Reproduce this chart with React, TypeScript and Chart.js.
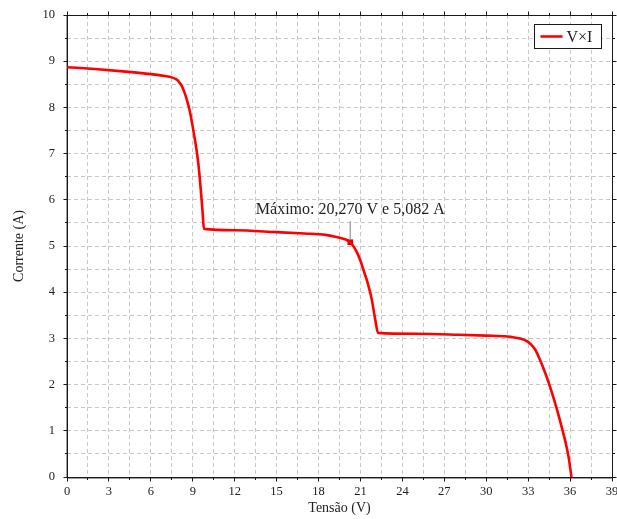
import { useEffect, useRef } from 'react';
import { Chart, registerables } from 'chart.js';

Chart.register(...registerables);

// Curva I-V do painel (tensão em V, corrente em A)
const tensao = [
  0, 2, 4, 6, 7, 7.5, 7.8, 8.0, 8.2, 8.4, 8.6, 8.8, 8.95, 9.1, 9.25, 9.4, 9.55, 9.7, 9.8,
  12, 15, 17, 18.5, 19.2, 19.7, 20.0, 20.27, 20.55, 20.8, 21.0, 21.25, 21.5, 21.8, 22.05, 22.26,
  25, 28, 30, 31.5, 32.0, 32.5, 32.9, 33.2, 33.5, 33.8, 34.1, 34.45, 34.8, 35.1, 35.4, 35.7, 35.9, 36.1,
];
const corrente = [
  8.87, 8.83, 8.78, 8.72, 8.68, 8.65, 8.61, 8.56, 8.47, 8.33, 8.14, 7.9, 7.66, 7.4, 7.12, 6.78, 6.3, 5.75, 5.37,
  5.34, 5.3, 5.27, 5.24, 5.2, 5.16, 5.13, 5.082, 4.97, 4.83, 4.68, 4.45, 4.22, 3.86, 3.42, 3.12,
  3.1, 3.08, 3.06, 3.04, 3.02, 2.99, 2.94, 2.87, 2.76, 2.57, 2.35, 2.06, 1.73, 1.42, 1.08, 0.72, 0.42, 0,
];

// Ponto de máxima potência
const maxTensao = 20.27;
const maxCorrente = 5.082;

// Eixos
const xMin = 0;
const xMax = 39;
const xMajor = 3;
const xMinor = 1.5;
const yMin = 0;
const yMax = 10;
const yMajor = 1;
const yMinor = 0.5;

const serieLabel = 'V×I';
const xTitle = 'Tensão (V)';
const yTitle = 'Corrente (A)';

const SERIF = '"Liberation Serif", "Times New Roman", serif';
const RED = '#ff0000';
const TEXT = '#222222';

const fmt = (v: number) => v.toFixed(3).replace('.', ',');
const maxLabel = `Máximo: ${fmt(maxTensao)} V e ${fmt(maxCorrente)} A`;

const isMultiple = (v: number, step: number) => Math.abs(v / step - Math.round(v / step)) < 1e-6;
const align = (p: number) => Math.round(p - 0.5) + 0.5;

// Moldura com marcas de escala para fora, nos quatro lados
const framePlugin = {
  id: 'frame',
  beforeDatasetsDraw(chart: any) {
    const { ctx, chartArea, scales } = chart;
    const x = scales.x;
    const y = scales.y;
    const l = align(chartArea.left);
    const r = align(chartArea.right);
    const t = align(chartArea.top);
    const b = align(chartArea.bottom);
    ctx.save();
    ctx.strokeStyle = '#1a1a1a';
    ctx.lineWidth = 1;
    ctx.setLineDash([]);
    ctx.strokeRect(l, t, r - l, b - t);
    // eixos esquerdo e inferior um pouco mais marcados
    ctx.strokeStyle = 'rgba(40,40,40,0.45)';
    ctx.beginPath();
    ctx.moveTo(l - 1, t);
    ctx.lineTo(l - 1, b);
    ctx.moveTo(l, b + 1);
    ctx.lineTo(r, b + 1);
    ctx.stroke();
    ctx.strokeStyle = '#1a1a1a';
    ctx.beginPath();
    for (const tk of x.ticks) {
      const px = align(x.getPixelForValue(tk.value));
      const len = isMultiple(tk.value, xMajor) ? 4 : 2.5;
      ctx.moveTo(px, b);
      ctx.lineTo(px, b + len);
      ctx.moveTo(px, t);
      ctx.lineTo(px, t - len);
    }
    for (const tk of y.ticks) {
      const py = align(y.getPixelForValue(tk.value));
      const len = isMultiple(tk.value, yMajor) ? 4 : 2.5;
      ctx.moveTo(l, py);
      ctx.lineTo(l - len, py);
      ctx.moveTo(r, py);
      ctx.lineTo(r + len, py);
    }
    ctx.stroke();
    ctx.restore();
  },
};

// Anotação do ponto máximo e legenda em caixa
const overlayPlugin = {
  id: 'overlay',
  afterDatasetsDraw(chart: any) {
    const { ctx, chartArea, scales } = chart;
    const px = scales.x.getPixelForValue(maxTensao);
    const py = scales.y.getPixelForValue(maxCorrente);
    ctx.save();
    ctx.strokeStyle = '#a8a8a8';
    ctx.lineWidth = 1.5;
    ctx.beginPath();
    ctx.moveTo(px, py - 3);
    ctx.lineTo(px, py - 21);
    ctx.stroke();
    ctx.fillStyle = TEXT;
    ctx.font = `16px ${SERIF}`;
    ctx.textAlign = 'center';
    ctx.textBaseline = 'alphabetic';
    ctx.fillText(maxLabel, px, py - 28);

    // legenda
    const bw = 67;
    const bh = 24;
    const bx = Math.round(chartArea.right - 11 - bw) + 0.5;
    const by = Math.round(chartArea.top + 9) + 0.5;
    ctx.fillStyle = '#ffffff';
    ctx.fillRect(bx, by, bw, bh);
    ctx.strokeStyle = '#1a1a1a';
    ctx.lineWidth = 1;
    ctx.strokeRect(bx, by, bw, bh);
    const ds = chart.data.datasets[0];
    ctx.strokeStyle = ds.borderColor;
    ctx.lineWidth = 2.6;
    ctx.beginPath();
    ctx.moveTo(bx + 6, by + bh / 2);
    ctx.lineTo(bx + 28, by + bh / 2);
    ctx.stroke();
    ctx.fillStyle = TEXT;
    ctx.font = `16px ${SERIF}`;
    ctx.textAlign = 'left';
    ctx.textBaseline = 'middle';
    ctx.fillText(ds.label, bx + 32, by + bh / 2 + 1);
    ctx.restore();
  },
};

export default function App() {
  const canvasRef = useRef<HTMLCanvasElement | null>(null);

  useEffect(() => {
    const canvas = canvasRef.current;
    if (!canvas) return;
    const tickFont = { family: SERIF, size: 12.5 };
    const titleFont = { family: SERIF, size: 14 };
    const grid = { color: '#c8c8c8', lineWidth: 1, drawTicks: false };
    const border = { display: false, dash: [4, 3] };

    const chart = new Chart(canvas, {
      type: 'line',
      data: {
        datasets: [
          {
            label: serieLabel,
            data: tensao.map((v, i) => ({ x: v, y: corrente[i] })),
            borderColor: RED,
            backgroundColor: RED,
            borderWidth: 2.6,
            pointRadius: 0,
            cubicInterpolationMode: 'monotone',
            borderJoinStyle: 'round',
            clip: 2,
          },
          {
            label: 'max',
            data: [{ x: maxTensao, y: maxCorrente }],
            showLine: false,
            pointStyle: 'rect',
            pointRadius: 4,
            borderWidth: 0,
            backgroundColor: '#d40000',
            borderColor: '#d40000',
          },
        ],
      },
      options: {
        responsive: false,
        animation: false,
        devicePixelRatio: 1,
        layout: { padding: { left: 0, top: 15, right: 5, bottom: 0 } },
        plugins: {
          legend: { display: false },
          tooltip: { enabled: false },
        },
        scales: {
          x: {
            type: 'linear',
            min: xMin,
            max: xMax,
            afterFit(s: any) {
              s.height = 42;
              s.paddingLeft = 0;
              s.paddingRight = 0;
            },
            ticks: {
              stepSize: xMinor,
              autoSkip: false,
              maxRotation: 0,
              minRotation: 0,
              padding: 7,
              color: TEXT,
              font: tickFont,
              callback: (v: any) => (isMultiple(Number(v), xMajor) ? String(Math.round(Number(v))) : ''),
            },
            grid,
            border,
            title: {
              display: true,
              text: xTitle,
              color: TEXT,
              font: titleFont,
              padding: { top: 0, bottom: 2.5 },
            },
          },
          y: {
            type: 'linear',
            min: yMin,
            max: yMax,
            afterFit(s: any) {
              s.width = 67;
              s.paddingTop = 0;
              s.paddingBottom = 0;
            },
            ticks: {
              stepSize: yMinor,
              autoSkip: false,
              padding: 12,
              color: TEXT,
              font: tickFont,
              callback: (v: any) => (isMultiple(Number(v), yMajor) ? String(Math.round(Number(v))) : ''),
            },
            grid,
            border,
            title: {
              display: true,
              text: yTitle,
              color: TEXT,
              font: titleFont,
              padding: { top: 10.5, bottom: 0 },
            },
          },
        },
      },
      plugins: [framePlugin, overlayPlugin],
    } as any);

    return () => chart.destroy();
  }, []);

  return (
    <div style={{ position: 'absolute', left: 0, top: 0, width: 617, height: 519, background: '#fff' }}>
      <canvas ref={canvasRef} width={617} height={519} />
    </div>
  );
}
